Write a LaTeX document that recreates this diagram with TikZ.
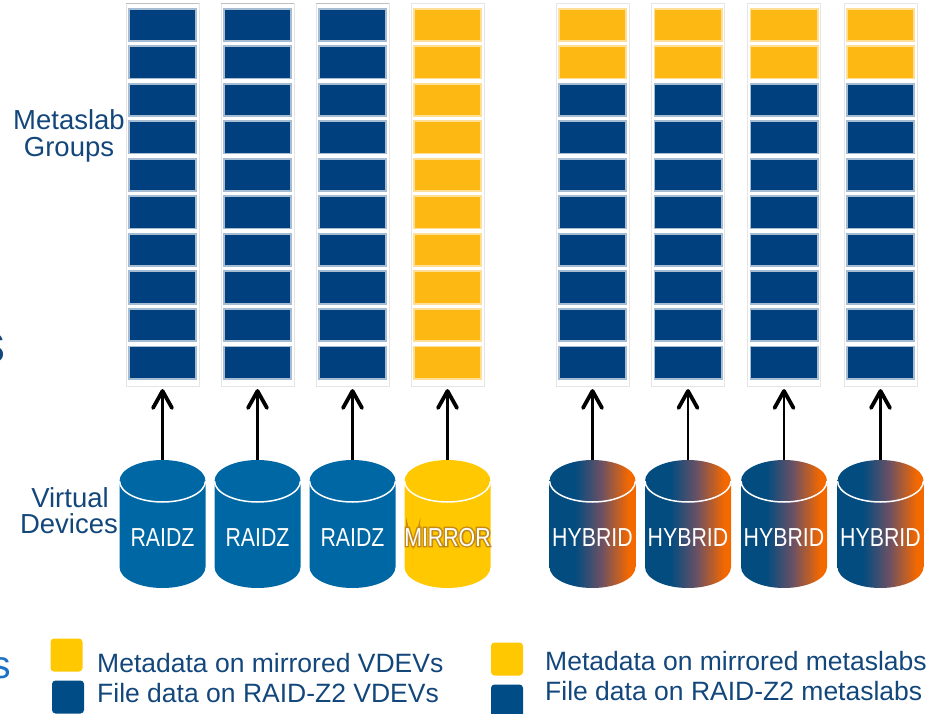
\documentclass[tikz,border=0pt]{standalone}
\usepackage{fontspec}
\setmainfont{Liberation Sans}
\newfontfamily\drumfont[FakeStretch=0.82]{Liberation Sans}
\newfontfamily\halofont[FakeStretch=0.82,FakeBold=11]{Liberation Sans}

\definecolor{slabblue}{HTML}{00407E}
\definecolor{slabgold}{HTML}{FDB813}
\definecolor{drumblue}{HTML}{0067A5}
\definecolor{drumgold}{HTML}{FFC800}
\definecolor{hybblue}{HTML}{034C80}
\definecolor{hybmid}{HTML}{6A5064}
\definecolor{hyborange}{HTML}{F46800}
\definecolor{keygold}{HTML}{FFC800}
\definecolor{keyblue}{HTML}{004C86}
\definecolor{labblue}{HTML}{13477C}
\definecolor{brightblue}{HTML}{1C72C4}
\definecolor{glowbrown}{HTML}{9A5A22}

% left-to-right blend for the hybrid devices
\pgfdeclarehorizontalshading{hybridshade}{100bp}{color(0bp)=(hybblue); color(25bp)=(hybblue); color(40bp)=(hybblue); color(55bp)=(hybmid); color(71bp)=(hyborange); color(100bp)=(hyborange)}

% a storage drum centred at x=#1, body filled with #3
\newcommand\drum[3]{%
  \path[#3] (#1-43,481) -- (#1-43,567)
    arc[start angle=180,end angle=0,x radius=43,y radius=21]
    -- (#1+43,481)
    arc[start angle=0,end angle=-180,x radius=43,y radius=21] -- cycle;
  \draw[white,line width=1.5pt] (#1-43,481)
    arc[start angle=180,end angle=0,x radius=43,y radius=21];
  \coordinate (top#2) at (#1,460);
}

\begin{document}
\begin{tikzpicture}[x=1pt,y=-1pt,
  colframe/.style={draw=black!10,line width=0.8pt,minimum width=73pt,minimum height=383pt,inner sep=0pt,outer sep=0pt},
  slab/.style={minimum width=67.4pt,minimum height=32.4pt,inner sep=0pt,outer sep=0pt,line width=1.6pt},
  blueslab/.style={slab,fill=slabblue,draw=slabblue!35!white},
  goldslab/.style={slab,fill=slabgold,draw=slabgold!45!white},
  shaft/.style={line width=2.2pt},
  barb/.style={line width=3.8pt,line cap=round,line join=round},
  drumtext/.style={text=white,font=\drumfont\fontsize{26}{28}\selectfont,inner sep=0pt,anchor=base},
  labeltext/.style={text=labblue,font=\fontsize{27.5}{30}\selectfont,inner sep=0pt,anchor=base},
  keytext/.style={text=labblue,font=\fontsize{26.5}{30}\selectfont,inner sep=0pt,anchor=base west},
  keysq/.style={minimum width=32pt,minimum height=33pt,rounded corners=3.5pt,inner sep=0pt}
]
\useasboundingbox (0,0) rectangle (932,714);
\clip (0,0) rectangle (932,714);

% metaslab group columns
\foreach \i/\cx/\ny in {1/162.5/0,2/257.5/0,3/352.5/0,4/447.5/10,5/592.5/2,6/688/2,7/784/2,8/880.5/2}{
  \node[colframe] (col\i) at (\cx,194.5) {};
  \foreach \k in {0,...,9}{
    \pgfmathsetmacro\yy{25+37.5*\k}
    \ifnum\k<\ny\relax\def\sty{goldslab}\else\def\sty{blueslab}\fi
    \node[\sty] (s\i-\k) at (\cx,\yy) {};
  }
}
% darker top edge on the RAIDZ columns
\foreach \i in {1,2,3}{
  \draw[black!25,line width=0.8pt] (col\i.north west) -- (col\i.north east);
}

% virtual devices
\drum{162.5}{1}{fill=drumblue}
\drum{257.5}{2}{fill=drumblue}
\drum{352.5}{3}{fill=drumblue}
\drum{447.5}{4}{fill=drumgold}
\drum{592.5}{5}{shading=hybridshade}
\drum{688}{6}{shading=hybridshade}
\drum{784}{7}{shading=hybridshade}
\drum{880.5}{8}{shading=hybridshade}

\node[drumtext] (dev1) at (162.5,546) {RAIDZ};
\node[drumtext] (dev2) at (257.5,546) {RAIDZ};
\node[drumtext] (dev3) at (352.5,546) {RAIDZ};
% soft brown halo behind the mirror label
\node[drumtext,font=\halofont\fontsize{26}{28}\selectfont,text=glowbrown,opacity=0.55] (mhalo) at (447.5,546) {MIRROR};
\node[drumtext] (dev4) at (447.5,546) {MIRROR};
\node[drumtext] (dev5) at (592.5,546) {HYBRID};
\node[drumtext] (dev6) at (688,546) {HYBRID};
\node[drumtext] (dev7) at (784,546) {HYBRID};
\node[drumtext] (dev8) at (880.5,546) {HYBRID};

% each device feeds its metaslab group
\foreach \i in {1,...,8}{
  \path (col\i.south) ++(0,5) coordinate (tip\i);
  \draw[shaft] (top\i) -- (tip\i);
  \draw[barb] (tip\i) ++(-9.5,17) -- (tip\i) -- ++(9.5,17);
}

% side labels
\node[labeltext] (lab1a) at (69,130) {Metaslab};
\node[labeltext] (lab1b) at (69,157) {Groups};
\node[labeltext] (lab2a) at (70,507) {Virtual};
\node[labeltext] (lab2b) at (69,533) {Devices};
\node[text=labblue,font=\fontsize{54}{60}\selectfont,inner sep=0pt,anchor=base east] (edge1) at (6,362) {s};
\node[text=brightblue,font=\fontsize{39}{44}\selectfont,inner sep=0pt,anchor=base east] (edge2) at (11,678) {s};

% key
\node[keysq,fill=keygold] (k1) at (66.5,655) {};
\node[keysq,fill=keyblue] (k2) at (68,697) {};
\node[keytext] (kt1) at (97,672) {Metadata on mirrored VDEVs};
\node[keytext] (kt2) at (97,702) {File data on RAID-Z2 VDEVs};
\node[keysq,fill=keygold] (k3) at (507,659) {};
\node[keysq,fill=keyblue] (k4) at (507,701) {};
\node[keytext] (kt3) at (545,670) {Metadata on mirrored metaslabs};
\node[keytext] (kt4) at (545,700) {File data on RAID-Z2 metaslabs};
\end{tikzpicture}
\end{document}
